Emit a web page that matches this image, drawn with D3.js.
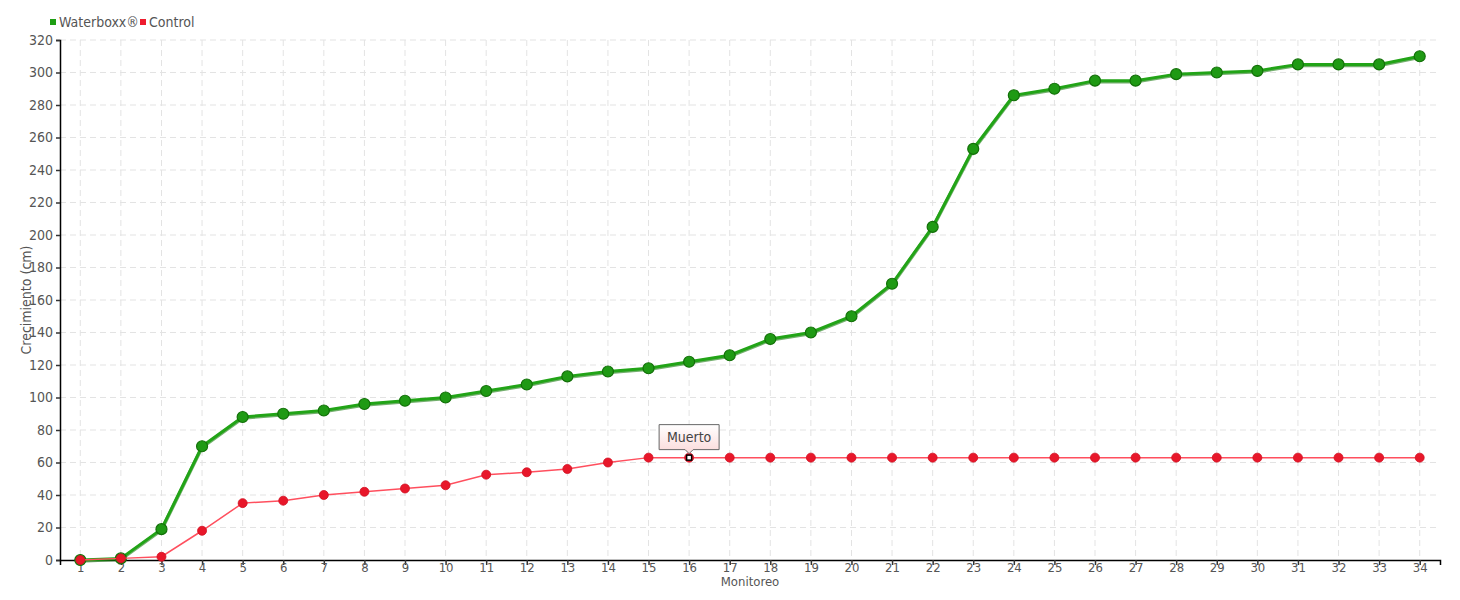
<!DOCTYPE html>
<html><head><meta charset="utf-8">
<script src="https://cdn.jsdelivr.net/npm/d3@7"></script>
<style>
body{margin:0;background:#fff;}
text{font-family:"DejaVu Sans Condensed","Liberation Sans Narrow",sans-serif;}
</style></head>
<body><svg id="c" width="1460" height="600"></svg>
<script>
const categories = d3.range(1,35).map(String);
const waterboxx = [0,1,19,70,88,90,92,96,98,100,104,108,113,116,118,122,126,136,140,150,170,205,253,286,290,295,295,299,300,301,305,305,305,310];
const control = [0,1,2,18,35,36.5,40,42,44,46,52.5,54,56,60,63,63,63,63,63,63,63,63,63,63,63,63,63,63,63,63,63,63,63,63];
const yTicks = d3.range(0,321,20);
const seriesNames = ["Waterboxx®","Control"];
const annotation = {cat:"16", label:"Muerto"};

const svg = d3.select("#c");
const L=60,R=1440,T=40,B=560;
const x = d3.scalePoint().domain(categories).range([L,R]).padding(0.5);
const y = d3.scaleLinear().domain([0,320]).range([B,T]);
const grid="#e3e3e3", txt="#555";

// grid
svg.append("g").selectAll("line").data(yTicks.slice(1)).join("line")
  .attr("x1",L).attr("x2",R).attr("y1",d=>y(d)).attr("y2",d=>y(d))
  .attr("stroke",grid).attr("stroke-dasharray","6,4").attr("stroke-width",1);
svg.append("g").selectAll("line").data(categories).join("line")
  .attr("x1",d=>x(d)).attr("x2",d=>x(d)).attr("y1",T).attr("y2",B)
  .attr("stroke",grid).attr("stroke-dasharray","6,4").attr("stroke-width",1);

// axes
const yAx = svg.append("g").attr("transform",`translate(${L},0)`)
  .call(d3.axisLeft(y).tickValues(yTicks).tickSize(4).tickPadding(3));
const xAx = svg.append("g").attr("transform",`translate(0,${B})`)
  .call(d3.axisBottom(x).tickSize(5));
[yAx,xAx].forEach(a=>{
  a.select(".domain").attr("stroke","#000").attr("stroke-width",1.5);
  a.selectAll(".tick line").attr("stroke","#333").attr("stroke-width",1.5);
  a.selectAll(".tick text").attr("fill",txt).style("font-size","14px").style("font-family",'"DejaVu Sans Condensed",sans-serif');
});
xAx.selectAll(".tick text").attr("y",3).style("font-size","13px");

// axis titles
svg.append("text").attr("x",(L+R)/2).attr("y",586).attr("text-anchor","middle")
  .attr("fill",txt).style("font-size","13px").text("Monitoreo");
svg.append("text").attr("transform",`translate(31,${(T+B)/2}) rotate(-90)`).attr("text-anchor","middle")
  .attr("fill",txt).style("font-size","14px").text("Crecimiento (cm)");

// legend
const leg = [{n:seriesNames[0],c:"#1e9e14",x:50},{n:seriesNames[1],c:"#ee1c2e",x:140}];
leg.forEach(l=>{
  svg.append("rect").attr("x",l.x).attr("y",19).attr("width",6).attr("height",6).attr("fill",l.c);
  svg.append("text").attr("x",l.x+9).attr("y",27).attr("fill",txt).style("font-size","14px").text(l.n);
});

// green series
const line = d3.line().x((d,i)=>x(categories[i])).y(d=>y(d));
svg.append("path").datum(waterboxx).attr("d",line).attr("fill","none")
  .attr("stroke","#157a0c").attr("stroke-width",3.5).attr("transform","translate(0,1)").attr("opacity",0.6);
svg.append("path").datum(waterboxx).attr("d",line).attr("fill","none")
  .attr("stroke","#22a417").attr("stroke-width",3);
svg.append("g").selectAll("circle").data(waterboxx).join("circle")
  .attr("cx",(d,i)=>x(categories[i])).attr("cy",d=>y(d)).attr("r",5.5)
  .attr("fill","#1f9a14").attr("stroke","#137009").attr("stroke-width",1.2);

// red series
svg.append("path").datum(control).attr("d",line).attr("fill","none")
  .attr("stroke","#ff4f5e").attr("stroke-width",1.5);
svg.append("g").selectAll("circle").data(control).join("circle")
  .attr("cx",(d,i)=>x(categories[i])).attr("cy",d=>y(d)).attr("r",4.5)
  .attr("fill","#e8172a").attr("stroke","#d11022").attr("stroke-width",0.8);

// annotation
const ai = categories.indexOf(annotation.cat);
const ax = x(annotation.cat), ay = y(control[ai]);
svg.append("rect").attr("x",ax-2.5).attr("y",ay-2.5).attr("width",5).attr("height",5)
  .attr("fill","#fff").attr("stroke","#000").attr("stroke-width",1.5);
const defs = svg.append("defs");
const g = defs.append("linearGradient").attr("id","tg").attr("x1",0).attr("x2",0).attr("y1",0).attr("y2",1);
g.append("stop").attr("offset","0%").attr("stop-color","#ffffff");
g.append("stop").attr("offset","100%").attr("stop-color","#fbd9d9");
const bw=60,bh=25,bx=ax-30,by=ay-33;
svg.append("path")
  .attr("d",`M${bx},${by} H${bx+bw} V${by+bh} H${ax+4} L${ax},${by+bh+4} L${ax-4},${by+bh} H${bx} Z`)
  .attr("fill","url(#tg)").attr("stroke","#666").attr("stroke-width",1);
svg.append("text").attr("x",ax).attr("y",by+17).attr("text-anchor","middle")
  .attr("fill","#444").style("font-size","14px").text(annotation.label);
</script></body></html>
